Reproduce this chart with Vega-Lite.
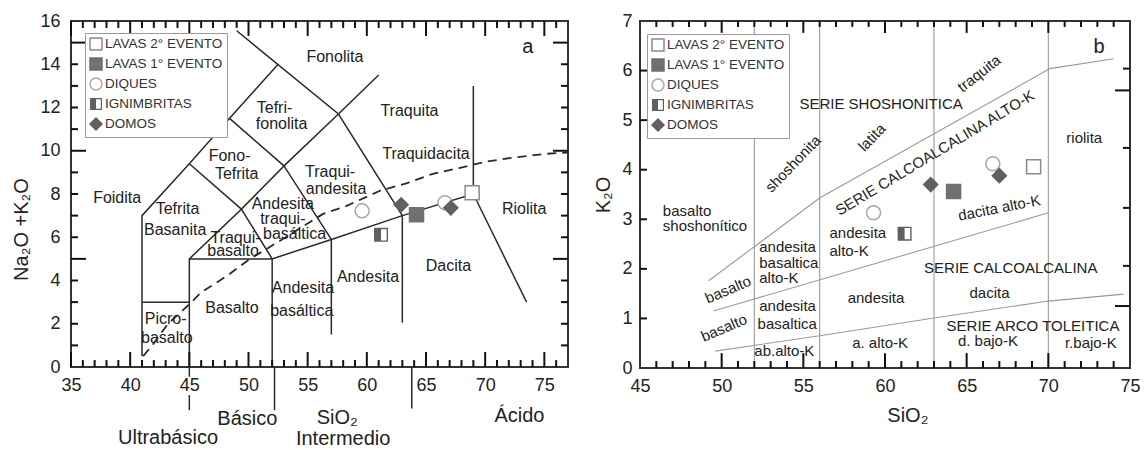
{
  "$schema": "https://vega.github.io/schema/vega-lite/v6.json",
  "background": "white",
  "padding": {"left": 10, "top": 11, "right": 5, "bottom": 0},
  "spacing": 19,
  "config": {
    "view": {"stroke": "#333", "strokeWidth": 2},
    "axis": {"grid": false, "domain": false, "ticks": false, "labelFlush": false, "labelFont": "Liberation Sans", "titleFont": "Liberation Sans", "labelColor": "#222", "titleColor": "#222", "titleFontWeight": "normal"},
    "text": {"font": "Liberation Sans", "color": "#222"},
    "rule": {"color": "#111", "strokeWidth": 2, "opacity": 1}
  },
  "resolve": {"scale": {"shape": "independent", "fill": "independent", "stroke": "independent"}},
  "datasets": {
    "tasLines": [
      {"s": "s1", "o": 1, "x": 41, "y": 0.5}, {"s": "s1", "o": 2, "x": 41, "y": 7}, {"s": "s1", "o": 3, "x": 45, "y": 9.4}, {"s": "s1", "o": 4, "x": 48.4, "y": 11.5}, {"s": "s1", "o": 5, "x": 52.5, "y": 14},
      {"s": "s2", "o": 1, "x": 49.0, "y": 15.55}, {"s": "s2", "o": 2, "x": 57.6, "y": 11.7}, {"s": "s2", "o": 3, "x": 63, "y": 7},
      {"s": "s3", "o": 1, "x": 57.6, "y": 11.7}, {"s": "s3", "o": 2, "x": 61, "y": 13.5},
      {"s": "s4", "o": 1, "x": 41, "y": 3}, {"s": "s4", "o": 2, "x": 45, "y": 3},
      {"s": "s5", "o": 1, "x": 45, "y": 0}, {"s": "s5", "o": 2, "x": 45, "y": 5}, {"s": "s5", "o": 3, "x": 52, "y": 5}, {"s": "s5", "o": 4, "x": 57, "y": 5.9}, {"s": "s5", "o": 5, "x": 63, "y": 7}, {"s": "s5", "o": 6, "x": 69, "y": 8}, {"s": "s5", "o": 7, "x": 69, "y": 13},
      {"s": "s6", "o": 1, "x": 52, "y": 0}, {"s": "s6", "o": 2, "x": 52, "y": 5},
      {"s": "s7", "o": 1, "x": 57, "y": 1.5}, {"s": "s7", "o": 2, "x": 57, "y": 5.9},
      {"s": "s8", "o": 1, "x": 63, "y": 2.05}, {"s": "s8", "o": 2, "x": 63, "y": 7},
      {"s": "s9", "o": 1, "x": 69, "y": 8}, {"s": "s9", "o": 2, "x": 73.5, "y": 3.0},
      {"s": "s10", "o": 1, "x": 45, "y": 5}, {"s": "s10", "o": 2, "x": 49.4, "y": 7.3}, {"s": "s10", "o": 3, "x": 52, "y": 5},
      {"s": "s11", "o": 1, "x": 45, "y": 9.4}, {"s": "s11", "o": 2, "x": 49.4, "y": 7.3}, {"s": "s11", "o": 3, "x": 53, "y": 9.3}, {"s": "s11", "o": 4, "x": 57, "y": 5.9},
      {"s": "s12", "o": 1, "x": 48.4, "y": 11.5}, {"s": "s12", "o": 2, "x": 53, "y": 9.3}, {"s": "s12", "o": 3, "x": 57.6, "y": 11.7},
      {"s": "b1", "o": 1, "x": 45, "y": 0}, {"s": "b1", "o": 2, "x": 45, "y": -0.45},
      {"s": "b2", "o": 1, "x": 45, "y": -1.3}, {"s": "b2", "o": 2, "x": 45, "y": -2.0},
      {"s": "b3", "o": 1, "x": 52.2, "y": 0}, {"s": "b3", "o": 2, "x": 52.2, "y": -2.0},
      {"s": "b4", "o": 1, "x": 63.8, "y": 0}, {"s": "b4", "o": 2, "x": 63.8, "y": -1.92}
    ],
    "ibCurve": [
      {"o": 1, "x": 41.1, "y": 0.5}, {"o": 2, "x": 42, "y": 1.1}, {"o": 3, "x": 43.2, "y": 2.0}, {"o": 4, "x": 45, "y": 2.9}, {"o": 5, "x": 46, "y": 3.45},
      {"o": 6, "x": 48.2, "y": 4.22}, {"o": 7, "x": 50, "y": 4.95}, {"o": 8, "x": 53, "y": 5.95}, {"o": 9, "x": 56.3, "y": 7.08}, {"o": 10, "x": 58.3, "y": 7.45},
      {"o": 11, "x": 61.1, "y": 8.15}, {"o": 12, "x": 63.4, "y": 8.5}, {"o": 13, "x": 65.5, "y": 8.92}, {"o": 14, "x": 67.8, "y": 9.2}, {"o": 15, "x": 70.1, "y": 9.5},
      {"o": 16, "x": 72.3, "y": 9.68}, {"o": 17, "x": 75.2, "y": 9.86}, {"o": 18, "x": 77, "y": 9.92}
    ],
    "ptsA": [
      {"tipo": "LAVAS 2° EVENTO", "x": 68.9, "y": 8.06},
      {"tipo": "LAVAS 1° EVENTO", "x": 64.2, "y": 7.04},
      {"tipo": "DIQUES", "x": 59.6, "y": 7.22},
      {"tipo": "DIQUES", "x": 66.6, "y": 7.6},
      {"tipo": "IGNIMBRITAS", "x": 61.2, "y": 6.11},
      {"tipo": "DOMOS", "x": 62.9, "y": 7.5},
      {"tipo": "DOMOS", "x": 67.1, "y": 7.36}
    ],
    "ptsB": [
      {"tipo": "LAVAS 2° EVENTO", "x": 69.1, "y": 4.06},
      {"tipo": "LAVAS 1° EVENTO", "x": 64.2, "y": 3.56},
      {"tipo": "DIQUES", "x": 66.6, "y": 4.12},
      {"tipo": "DIQUES", "x": 59.3, "y": 3.13},
      {"tipo": "IGNIMBRITAS", "x": 61.2, "y": 2.71},
      {"tipo": "DOMOS", "x": 62.8, "y": 3.7},
      {"tipo": "DOMOS", "x": 67.0, "y": 3.88}
    ],
    "ptLines": [
      {"s": "t1", "o": 1, "x": 49.6, "y": 0.34}, {"s": "t1", "o": 2, "x": 56, "y": 0.65}, {"s": "t1", "o": 3, "x": 63, "y": 1.01}, {"s": "t1", "o": 4, "x": 70, "y": 1.35}, {"s": "t1", "o": 5, "x": 74.6, "y": 1.49},
      {"s": "t2", "o": 1, "x": 49.5, "y": 1.15}, {"s": "t2", "o": 2, "x": 70, "y": 3.13},
      {"s": "t3", "o": 1, "x": 49.2, "y": 1.76}, {"s": "t3", "o": 2, "x": 56, "y": 3.43}, {"s": "t3", "o": 3, "x": 70.1, "y": 6.04}, {"s": "t3", "o": 4, "x": 74, "y": 6.24},
      {"s": "v52", "o": 1, "x": 52, "y": 0}, {"s": "v52", "o": 2, "x": 52, "y": 7},
      {"s": "v56", "o": 1, "x": 56, "y": 0}, {"s": "v56", "o": 2, "x": 56, "y": 7},
      {"s": "v63", "o": 1, "x": 63, "y": 0}, {"s": "v63", "o": 2, "x": 63, "y": 7},
      {"s": "v70", "o": 1, "x": 70, "y": 0}, {"s": "v70", "o": 2, "x": 70, "y": 7}
    ],
    "tA_xmaj": [{"v": 35}, {"v": 40}, {"v": 45}, {"v": 50}, {"v": 55}, {"v": 60}, {"v": 65}, {"v": 70}, {"v": 75}],
    "tA_xmin": [{"v": 36}, {"v": 37}, {"v": 38}, {"v": 39}, {"v": 41}, {"v": 42}, {"v": 43}, {"v": 44}, {"v": 46}, {"v": 47}, {"v": 48}, {"v": 49}, {"v": 51}, {"v": 52}, {"v": 53}, {"v": 54}, {"v": 56}, {"v": 57}, {"v": 58}, {"v": 59}, {"v": 61}, {"v": 62}, {"v": 63}, {"v": 64}, {"v": 66}, {"v": 67}, {"v": 68}, {"v": 69}, {"v": 71}, {"v": 72}, {"v": 73}, {"v": 74}, {"v": 76}],
    "tA_ymaj": [{"v": 5}, {"v": 10}, {"v": 15}],
    "tA_ymin": [{"v": 1}, {"v": 2}, {"v": 3}, {"v": 4}, {"v": 6}, {"v": 7}, {"v": 8}, {"v": 9}, {"v": 11}, {"v": 12}, {"v": 13}, {"v": 14}],
    "tB_xmaj": [{"v": 50}, {"v": 55}, {"v": 60}, {"v": 65}, {"v": 70}],
    "tB_xmin": [{"v": 46}, {"v": 47}, {"v": 48}, {"v": 49}, {"v": 51}, {"v": 52}, {"v": 53}, {"v": 54}, {"v": 56}, {"v": 57}, {"v": 58}, {"v": 59}, {"v": 61}, {"v": 62}, {"v": 63}, {"v": 64}, {"v": 66}, {"v": 67}, {"v": 68}, {"v": 69}, {"v": 71}, {"v": 72}, {"v": 73}, {"v": 74}],
    "tB_yl": [{"v": 1}, {"v": 2}, {"v": 3}, {"v": 4}, {"v": 5}, {"v": 6}],
    "tB_yrmaj": [{"v": 5.6}, {"v": 1.25}],
    "tB_yrmin": [{"v": 6.04}, {"v": 4.44}, {"v": 3.23}, {"v": 2.06}]
  },
  "hconcat": [
    {
      "width": 497,
      "height": 346,
      "layer": [
        {
          "data": {"name": "tasLines"},
          "mark": {"type": "line", "stroke": "#2a2a2a", "strokeWidth": 1.5},
          "encoding": {
            "x": {"field": "x", "type": "quantitative", "scale": {"domain": [35, 77], "nice": false, "zero": false},
                  "axis": {"orient": "bottom", "values": [35, 40, 45, 50, 55, 60, 65, 70, 75], "labelFontSize": 18, "labelPadding": 9, "title": null}},
            "y": {"field": "y", "type": "quantitative", "scale": {"domain": [0, 16], "nice": false, "zero": false},
                  "axis": {"orient": "left", "values": [0, 2, 4, 6, 8, 10, 12, 14, 16], "labelFontSize": 18, "labelPadding": 11, "title": "Na₂O +K₂O", "titleFontSize": 20, "titlePadding": 8, "titleY": 208}},
            "detail": {"field": "s"},
            "order": {"field": "o", "type": "quantitative"}
          }
        },
        {
          "data": {"name": "ibCurve"},
          "mark": {"type": "line", "stroke": "#2a2a2a", "strokeWidth": 1.8, "strokeDash": [9, 6]},
          "encoding": {
            "x": {"field": "x", "type": "quantitative"},
            "y": {"field": "y", "type": "quantitative"},
            "order": {"field": "o", "type": "quantitative"}
          }
        },
        {"data": {"name": "tA_xmaj"}, "mark": {"type": "rule"},
         "encoding": {"x": {"field": "v", "type": "quantitative"}, "y": {"datum": 0, "type": "quantitative"}, "y2": {"datum": 0.69}}},
        {"data": {"name": "tA_xmin"}, "mark": {"type": "rule"},
         "encoding": {"x": {"field": "v", "type": "quantitative"}, "y": {"datum": 0, "type": "quantitative"}, "y2": {"datum": 0.32}}},
        {"data": {"name": "tA_xmaj"}, "mark": {"type": "rule"},
         "encoding": {"x": {"field": "v", "type": "quantitative"}, "y": {"datum": 16, "type": "quantitative"}, "y2": {"datum": 15.31}}},
        {"data": {"name": "tA_xmin"}, "mark": {"type": "rule"},
         "encoding": {"x": {"field": "v", "type": "quantitative"}, "y": {"datum": 16, "type": "quantitative"}, "y2": {"datum": 15.68}}},
        {"data": {"name": "tA_ymaj"}, "mark": {"type": "rule"},
         "encoding": {"y": {"field": "v", "type": "quantitative"}, "x": {"datum": 35, "type": "quantitative"}, "x2": {"datum": 36.27}}},
        {"data": {"name": "tA_ymin"}, "mark": {"type": "rule"},
         "encoding": {"y": {"field": "v", "type": "quantitative"}, "x": {"datum": 35, "type": "quantitative"}, "x2": {"datum": 35.59}}},
        {"data": {"name": "tA_ymaj"}, "mark": {"type": "rule"},
         "encoding": {"y": {"field": "v", "type": "quantitative"}, "x": {"datum": 77, "type": "quantitative"}, "x2": {"datum": 75.73}}},
        {"data": {"name": "tA_ymin"}, "mark": {"type": "rule"},
         "encoding": {"y": {"field": "v", "type": "quantitative"}, "x": {"datum": 77, "type": "quantitative"}, "x2": {"datum": 76.41}}},
        {
          "data": {"name": "ptsA"},
          "mark": {"type": "point", "filled": true, "size": 196, "strokeWidth": 1.5, "opacity": 1},
          "encoding": {
            "x": {"field": "x", "type": "quantitative"},
            "y": {"field": "y", "type": "quantitative"},
            "shape": {"field": "tipo", "type": "nominal",
                      "scale": {"domain": ["LAVAS 2° EVENTO", "LAVAS 1° EVENTO", "DIQUES", "IGNIMBRITAS", "DOMOS"], "range": ["square", "square", "circle", "M-1,-1H1V1H-1Z M0,-0.8V0.8H0.8V-0.8Z", "diamond"]},
                      "legend": {"title": null, "orient": "none", "legendX": 14, "legendY": 12, "labelFontSize": 13.5, "labelFont": "Liberation Sans", "labelColor": "#333", "symbolSize": 144, "symbolStrokeWidth": 1.5, "rowPadding": 2, "padding": 4, "strokeColor": "#999", "fillColor": "white", "labelOffset": 2}},
            "fill": {"field": "tipo", "type": "nominal",
                     "scale": {"domain": ["LAVAS 2° EVENTO", "LAVAS 1° EVENTO", "DIQUES", "IGNIMBRITAS", "DOMOS"], "range": ["white", "#707070", "white", "#606060", "#606060"]},
                     "legend": {"title": null, "orient": "none", "legendX": 14, "legendY": 12, "labelFontSize": 13.5, "labelFont": "Liberation Sans", "labelColor": "#333", "symbolSize": 144, "symbolStrokeWidth": 1.5, "rowPadding": 2, "padding": 4, "strokeColor": "#999", "fillColor": "white", "labelOffset": 2}},
            "stroke": {"field": "tipo", "type": "nominal",
                       "scale": {"domain": ["LAVAS 2° EVENTO", "LAVAS 1° EVENTO", "DIQUES", "IGNIMBRITAS", "DOMOS"], "range": ["#8a8a8a", "#707070", "#a8a8a8", "transparent", "#606060"]},
                       "legend": {"title": null, "orient": "none", "legendX": 14, "legendY": 12, "labelFontSize": 13.5, "labelFont": "Liberation Sans", "labelColor": "#333", "symbolSize": 144, "symbolStrokeWidth": 1.5, "rowPadding": 2, "padding": 4, "strokeColor": "#999", "fillColor": "white", "labelOffset": 2}}
          }
        },
        {
          "data": {"values": [
            {"t": "Fonolita", "x": 57.3, "y": 14.35},
            {"t": "Tefri-", "x": 52.2, "y": 12.0},
            {"t": "fonolita", "x": 52.8, "y": 11.25},
            {"t": "Traquita", "x": 63.6, "y": 11.85},
            {"t": "Traquidacita", "x": 65.0, "y": 9.86},
            {"t": "Traqui-", "x": 56.9, "y": 9.03},
            {"t": "andesita", "x": 57.4, "y": 8.24},
            {"t": "Fono-", "x": 48.4, "y": 9.77},
            {"t": "Tefrita", "x": 49.0, "y": 8.94},
            {"t": "Foidita", "x": 38.9, "y": 7.82},
            {"t": "Tefrita", "x": 44.0, "y": 7.3},
            {"t": "Basanita", "x": 43.8, "y": 6.34},
            {"t": "Andesita", "x": 52.9, "y": 7.55},
            {"t": "traqui-", "x": 52.9, "y": 6.85},
            {"t": "basáltica", "x": 53.9, "y": 6.16},
            {"t": "Traqui-", "x": 48.9, "y": 5.97},
            {"t": "basalto", "x": 48.7, "y": 5.37},
            {"t": "Basalto", "x": 48.6, "y": 2.73},
            {"t": "Picro-", "x": 43.0, "y": 2.22},
            {"t": "basalto", "x": 43.1, "y": 1.34},
            {"t": "Andesita", "x": 54.6, "y": 3.66},
            {"t": "basáltica", "x": 54.5, "y": 2.6},
            {"t": "Andesita", "x": 60.1, "y": 4.17},
            {"t": "Dacita", "x": 66.9, "y": 4.68},
            {"t": "Riolita", "x": 73.3, "y": 7.3}
          ]},
          "mark": {"type": "text", "fontSize": 16, "align": "center", "baseline": "middle"},
          "encoding": {
            "x": {"field": "x", "type": "quantitative"},
            "y": {"field": "y", "type": "quantitative"},
            "text": {"field": "t"}
          }
        },
        {
          "data": {"values": [
            {"t": "a", "x": 73.6, "y": 14.8},
            {"t": "Ultrabásico", "x": 43.2, "y": -3.29},
            {"t": "Básico", "x": 49.9, "y": -2.41},
            {"t": "SiO₂", "x": 57.5, "y": -2.36},
            {"t": "Intermedio", "x": 58.0, "y": -3.33},
            {"t": "Ácido", "x": 72.9, "y": -2.27}
          ]},
          "mark": {"type": "text", "fontSize": 20, "align": "center", "baseline": "middle"},
          "encoding": {
            "x": {"field": "x", "type": "quantitative"},
            "y": {"field": "y", "type": "quantitative"},
            "text": {"field": "t"}
          }
        }
      ]
    },
    {
      "width": 490,
      "height": 347,
      "layer": [
        {
          "data": {"name": "ptLines"},
          "mark": {"type": "line", "stroke": "#9a9a9a", "strokeWidth": 1.1},
          "encoding": {
            "x": {"field": "x", "type": "quantitative", "scale": {"domain": [45, 75], "nice": false, "zero": false},
                  "axis": {"orient": "bottom", "values": [45, 50, 55, 60, 65, 70, 75], "labelFontSize": 18, "labelPadding": 9, "title": null}},
            "y": {"field": "y", "type": "quantitative", "scale": {"domain": [0, 7], "nice": false, "zero": false},
                  "axis": {"orient": "left", "values": [0, 1, 2, 3, 4, 5, 6, 7], "labelFontSize": 18, "labelPadding": 8, "title": "K₂O", "titleFontSize": 20, "titlePadding": 8}},
            "detail": {"field": "s"},
            "order": {"field": "o", "type": "quantitative"}
          }
        },
        {"data": {"name": "tB_xmaj"}, "mark": {"type": "rule"},
         "encoding": {"x": {"field": "v", "type": "quantitative"}, "y": {"datum": 0, "type": "quantitative"}, "y2": {"datum": 0.3}}},
        {"data": {"name": "tB_xmin"}, "mark": {"type": "rule"},
         "encoding": {"x": {"field": "v", "type": "quantitative"}, "y": {"datum": 0, "type": "quantitative"}, "y2": {"datum": 0.14}}},
        {"data": {"name": "tB_xmaj"}, "mark": {"type": "rule"},
         "encoding": {"x": {"field": "v", "type": "quantitative"}, "y": {"datum": 7, "type": "quantitative"}, "y2": {"datum": 6.76}}},
        {"data": {"name": "tB_xmin"}, "mark": {"type": "rule"},
         "encoding": {"x": {"field": "v", "type": "quantitative"}, "y": {"datum": 7, "type": "quantitative"}, "y2": {"datum": 6.88}}},
        {"data": {"name": "tB_yl"}, "mark": {"type": "rule"},
         "encoding": {"y": {"field": "v", "type": "quantitative"}, "x": {"datum": 45, "type": "quantitative"}, "x2": {"datum": 45.43}}},
        {"data": {"name": "tB_yrmaj"}, "mark": {"type": "rule"},
         "encoding": {"y": {"field": "v", "type": "quantitative"}, "x": {"datum": 75, "type": "quantitative"}, "x2": {"datum": 74.08}}},
        {"data": {"name": "tB_yrmin"}, "mark": {"type": "rule"},
         "encoding": {"y": {"field": "v", "type": "quantitative"}, "x": {"datum": 75, "type": "quantitative"}, "x2": {"datum": 74.57}}},
        {
          "data": {"name": "ptsB"},
          "mark": {"type": "point", "filled": true, "size": 196, "strokeWidth": 1.5, "opacity": 1},
          "encoding": {
            "x": {"field": "x", "type": "quantitative"},
            "y": {"field": "y", "type": "quantitative"},
            "shape": {"field": "tipo", "type": "nominal",
                      "scale": {"domain": ["LAVAS 2° EVENTO", "LAVAS 1° EVENTO", "DIQUES", "IGNIMBRITAS", "DOMOS"], "range": ["square", "square", "circle", "M-1,-1H1V1H-1Z M0,-0.8V0.8H0.8V-0.8Z", "diamond"]},
                      "legend": {"title": null, "orient": "none", "legendX": 7, "legendY": 13, "labelFontSize": 13.5, "labelFont": "Liberation Sans", "labelColor": "#333", "symbolSize": 144, "symbolStrokeWidth": 1.5, "rowPadding": 2, "padding": 4, "strokeColor": "#999", "fillColor": "white", "labelOffset": 2}},
            "fill": {"field": "tipo", "type": "nominal",
                     "scale": {"domain": ["LAVAS 2° EVENTO", "LAVAS 1° EVENTO", "DIQUES", "IGNIMBRITAS", "DOMOS"], "range": ["white", "#707070", "white", "#606060", "#606060"]},
                     "legend": {"title": null, "orient": "none", "legendX": 7, "legendY": 13, "labelFontSize": 13.5, "labelFont": "Liberation Sans", "labelColor": "#333", "symbolSize": 144, "symbolStrokeWidth": 1.5, "rowPadding": 2, "padding": 4, "strokeColor": "#999", "fillColor": "white", "labelOffset": 2}},
            "stroke": {"field": "tipo", "type": "nominal",
                       "scale": {"domain": ["LAVAS 2° EVENTO", "LAVAS 1° EVENTO", "DIQUES", "IGNIMBRITAS", "DOMOS"], "range": ["#8a8a8a", "#707070", "#a8a8a8", "transparent", "#606060"]},
                       "legend": {"title": null, "orient": "none", "legendX": 7, "legendY": 13, "labelFontSize": 13.5, "labelFont": "Liberation Sans", "labelColor": "#333", "symbolSize": 144, "symbolStrokeWidth": 1.5, "rowPadding": 2, "padding": 4, "strokeColor": "#999", "fillColor": "white", "labelOffset": 2}}
          }
        },
        {
          "data": {"values": [
            {"t": "SERIE SHOSHONITICA", "x": 59.76, "y": 5.33},
            {"t": "riolita", "x": 72.2, "y": 4.63},
            {"t": "andesita", "x": 59.45, "y": 1.41},
            {"t": "SERIE CALCOALCALINA", "x": 67.7, "y": 2.02},
            {"t": "dacita", "x": 66.4, "y": 1.52},
            {"t": "a. alto-K", "x": 59.7, "y": 0.5},
            {"t": "SERIE ARCO TOLEITICA", "x": 69.06, "y": 0.85},
            {"t": "d. bajo-K", "x": 66.3, "y": 0.55},
            {"t": "r.bajo-K", "x": 72.6, "y": 0.51}
          ]},
          "mark": {"type": "text", "fontSize": 15, "align": "center", "baseline": "middle"},
          "encoding": {
            "x": {"field": "x", "type": "quantitative"},
            "y": {"field": "y", "type": "quantitative"},
            "text": {"field": "t"}
          }
        },
        {
          "data": {"values": [
            {"t": "basalto", "x": 46.4, "y": 3.17},
            {"t": "shoshonítico", "x": 46.4, "y": 2.87},
            {"t": "andesita", "x": 52.3, "y": 2.44},
            {"t": "basaltica", "x": 52.3, "y": 2.12},
            {"t": "alto-K", "x": 52.3, "y": 1.82},
            {"t": "andesita", "x": 56.6, "y": 2.73},
            {"t": "alto-K", "x": 56.6, "y": 2.36},
            {"t": "andesita", "x": 52.3, "y": 1.25},
            {"t": "basaltica", "x": 52.2, "y": 0.89},
            {"t": "ab.alto-K", "x": 52.0, "y": 0.34}
          ]},
          "mark": {"type": "text", "fontSize": 15, "align": "left", "baseline": "middle"},
          "encoding": {
            "x": {"field": "x", "type": "quantitative"},
            "y": {"field": "y", "type": "quantitative"},
            "text": {"field": "t"}
          }
        },
        {
          "data": {"values": [
            {"t": "shoshonita", "x": 54.37, "y": 4.12},
            {"t": "latita", "x": 59.2, "y": 4.65}
          ]},
          "mark": {"type": "text", "fontSize": 15, "align": "center", "baseline": "middle", "angle": -46},
          "encoding": {
            "x": {"field": "x", "type": "quantitative"},
            "y": {"field": "y", "type": "quantitative"},
            "text": {"field": "t"}
          }
        },
        {
          "data": {"values": [{"t": "traquita", "x": 65.76, "y": 5.94}]},
          "mark": {"type": "text", "fontSize": 15, "align": "center", "baseline": "middle", "angle": -38},
          "encoding": {
            "x": {"field": "x", "type": "quantitative"},
            "y": {"field": "y", "type": "quantitative"},
            "text": {"field": "t"}
          }
        },
        {
          "data": {"values": [{"t": "SERIE CALCOALCALINA ALTO-K", "x": 63.06, "y": 4.34}]},
          "mark": {"type": "text", "fontSize": 15, "align": "center", "baseline": "middle", "angle": -31},
          "encoding": {
            "x": {"field": "x", "type": "quantitative"},
            "y": {"field": "y", "type": "quantitative"},
            "text": {"field": "t"}
          }
        },
        {
          "data": {"values": [
            {"t": "basalto", "x": 50.39, "y": 1.58},
            {"t": "basalto", "x": 50.14, "y": 0.81}
          ]},
          "mark": {"type": "text", "fontSize": 15, "align": "center", "baseline": "middle", "angle": -23},
          "encoding": {
            "x": {"field": "x", "type": "quantitative"},
            "y": {"field": "y", "type": "quantitative"},
            "text": {"field": "t"}
          }
        },
        {
          "data": {"values": [{"t": "dacita alto-K", "x": 67.0, "y": 3.23}]},
          "mark": {"type": "text", "fontSize": 15, "align": "center", "baseline": "middle", "angle": -11},
          "encoding": {
            "x": {"field": "x", "type": "quantitative"},
            "y": {"field": "y", "type": "quantitative"},
            "text": {"field": "t"}
          }
        },
        {
          "data": {"values": [
            {"t": "b", "x": 73.1, "y": 6.47},
            {"t": "SiO₂", "x": 61.4, "y": -0.97}
          ]},
          "mark": {"type": "text", "fontSize": 20, "align": "center", "baseline": "middle"},
          "encoding": {
            "x": {"field": "x", "type": "quantitative"},
            "y": {"field": "y", "type": "quantitative"},
            "text": {"field": "t"}
          }
        }
      ]
    }
  ]
}
